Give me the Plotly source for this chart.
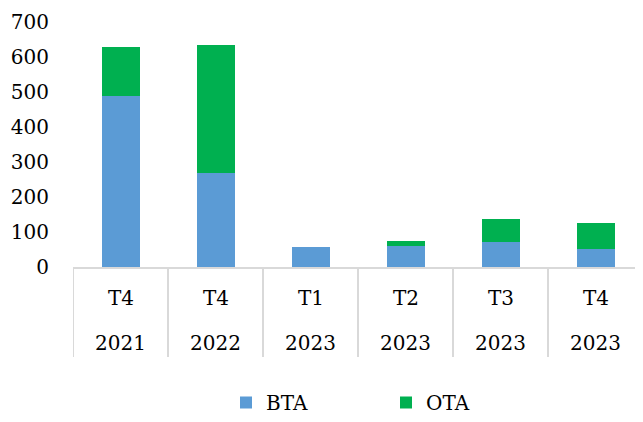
import plotly.graph_objects as go

quarters = ["T4", "T4", "T1", "T2", "T3", "T4"]
years = ["2021", "2022", "2023", "2023", "2023", "2023"]
bta = [488, 269, 56, 59, 71, 51]
ota = [140, 365, 0, 15, 66, 75]
y_ticks = [0, 100, 200, 300, 400, 500, 600, 700]

FONT = "DejaVu Serif"
OFF = 8  # page body margin
W, H = 643 - OFF, 422 - OFF
ML, MT = 73 - OFF, 22 - OFF
PW, PH = 570, 245
MR = W - ML - PW
MB = H - MT - PH

xs = list(range(len(quarters)))

fig = go.Figure()
fig.add_trace(go.Bar(x=xs, y=bta, name="BTA", marker=dict(color="#5B9BD5", line=dict(width=0))))
fig.add_trace(go.Bar(x=xs, y=ota, name="OTA", marker=dict(color="#00B050", line=dict(width=0))))

# category labels
ann = []
for i, (q, yv) in enumerate(zip(quarters, years)):
    ann.append(dict(x=i, y=-31 / PH, xref="x", yref="paper", text=q, showarrow=False,
                    font=dict(family=FONT, size=20, color="#000"), yanchor="middle"))
    ann.append(dict(x=i, y=-76 / PH, xref="x", yref="paper", text=yv, showarrow=False,
                    font=dict(family=FONT, size=20, color="#000"), yanchor="middle"))

shapes = []
for i in range(len(quarters)):
    shapes.append(dict(type="line", xref="x", yref="paper", x0=i - 0.5, x1=i - 0.5,
                       y0=0, y1=-90 / PH, line=dict(color="#D9D9D9", width=2)))

fig.update_layout(
    width=W, height=H,
    margin=dict(l=ML, r=MR, t=MT, b=MB, autoexpand=False),
    barmode="stack",
    bargap=0.6,
    plot_bgcolor="white", paper_bgcolor="white",
    font=dict(family=FONT, size=20, color="#000"),
    xaxis=dict(range=[-0.5, len(quarters) - 0.5], showticklabels=False, showgrid=False,
               zeroline=False, showline=True, linecolor="#D9D9D9", linewidth=2, ticks=""),
    yaxis=dict(range=[0, 700], tickvals=y_ticks, showgrid=False, zeroline=False, showline=False,
               ticks="outside", ticklen=19, tickcolor="rgba(0,0,0,0)",
               tickfont=dict(family=FONT, size=20, color="#000")),
    annotations=ann,
    shapes=shapes,
    showlegend=True,
    legend=dict(orientation="h", x=(226 - OFF) / W, xanchor="left", y=-5 / H,
                yanchor="bottom", xref="container", yref="container",
                entrywidth=115, entrywidthmode="pixels", itemwidth=30,
                font=dict(family=FONT, size=20, color="#000"), traceorder="normal"),
)

fig.write_html("out.html")
